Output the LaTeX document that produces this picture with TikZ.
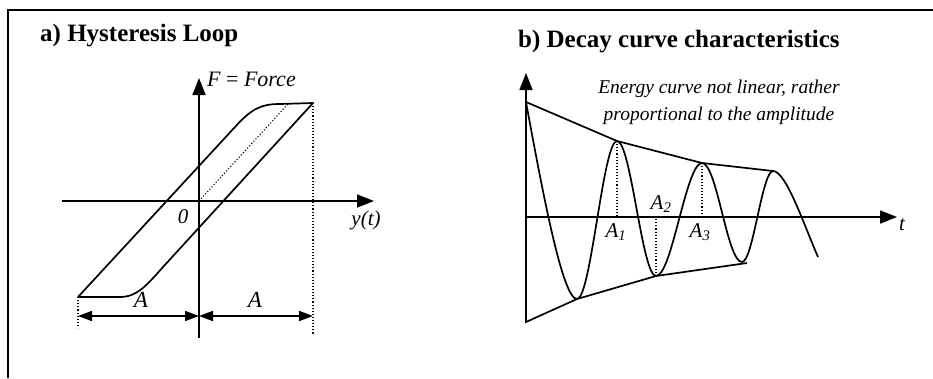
\documentclass[tikz,border=0pt]{standalone}
\usepackage{fontspec}
\setmainfont{Liberation Serif}
\usetikzlibrary{arrows.meta}

\begin{document}
\begin{tikzpicture}[x=1pt,y=-1pt,
    curve/.style={line width=1.7pt, line join=round},
    axis/.style={line width=1.7pt, -{Triangle[length=17pt,width=13pt]}},
    dim/.style={line width=1.7pt, {Triangle[length=14pt,width=10pt]}-{Triangle[length=14pt,width=10pt]}},
    guide/.style={line width=1.1pt, dotted},
    lbl/.style={inner sep=0pt, anchor=base, font=\fontsize{21}{24}\selectfont\itshape},
    title/.style={inner sep=0pt, anchor=base west, font=\fontsize{25}{28}\selectfont\bfseries}]
    \useasboundingbox (0,0) rectangle (933,378);
    \draw[line width=2pt] (8,378) -- (8,10) -- (933,10);

    % a) hysteresis loop
    \pgfmathsetmacro{\ox}{199}
    \pgfmathsetmacro{\oy}{201}
    \pgfmathsetmacro{\xl}{78}
    \pgfmathsetmacro{\xr}{313}
    \coordinate (O) at (\ox,\oy);
    \coordinate (lo) at (\xl,297);
    \coordinate (hi) at (\xr,103);
    \node[title] (titleA) at (40,41) {a) Hysteresis Loop};
    \draw[axis] (62,\oy) -- (374,\oy);
    \draw[axis] (\ox,338) -- (\ox,78);
    \draw[curve] (lo) -- (235,127) .. controls (252,108) and (262,104) .. (280,104)
        -- (hi) -- (163,267) .. controls (147,285) and (137,297) .. (120,297) -- (lo);
    \draw[guide] (O) -- (288,104);
    \draw[guide] (hi) -- (\xr,335);
    \draw[guide] (lo) -- (\xl,328);
    \draw[dim] (\xl,316) -- (\ox,316);
    \draw[dim] (\ox,316) -- (\xr,316);
    \node[lbl, anchor=base west, font=\fontsize{22}{24}\selectfont\itshape] (force) at (207,86) {F {\upshape=} Force};
    \node[lbl] (zero) at (183,223) {0};
    \node[lbl] (yt) at (366,225) {y(t)};
    \node[lbl, font=\fontsize{23}{24}\selectfont\itshape] (ampL) at (141,307) {A};
    \node[lbl, font=\fontsize{23}{24}\selectfont\itshape] (ampR) at (255,307) {A};

    % b) decay curve
    \pgfmathsetmacro{\tx}{526}
    \pgfmathsetmacro{\ty}{217}
    \node[title] (titleB) at (518,47) {b) Decay curve characteristics};
    \draw[axis] (\tx,\ty) -- (897,\ty);
    \draw[axis] (\tx,323) -- (\tx,73);
    \coordinate (S) at (\tx,102);
    \coordinate (m1) at (577,299);
    \coordinate (p1) at (617,141);
    \coordinate (m2) at (656,276);
    \coordinate (p2) at (702,163);
    \coordinate (m3) at (742,262);
    \coordinate (p3) at (773,171);
    \coordinate (E) at (818,257);
    \draw[curve] (S) -- (p1) -- (p2) -- (p3);
    \draw[curve] (\tx,322) -- (m1) -- (m2) -- (747,263);
    \draw[curve] (S) .. controls (544,200) and (563,299) .. (m1)
        .. controls (591,299) and (603,141) .. (p1)
        .. controls (631,141) and (642,276) .. (m2)
        .. controls (672,276) and (686,163) .. (p2)
        .. controls (717,163) and (727,262) .. (m3)
        .. controls (753,262) and (762,171) .. (p3)
        .. controls (786,171) and (804,225) .. (E);
    \foreach \pt in {p1,m2,p2} {
        \draw[guide] (\pt) -- (\pt |- 0,\ty);
    }
    \node[lbl] (a1) at (616,237) {A\textsubscript{1}};
    \node[lbl] (a2) at (661,209) {A\textsubscript{2}};
    \node[lbl] (a3) at (700,237) {A\textsubscript{3}};
    \node[lbl] (tlab) at (902,230) {t};
    \node[lbl, anchor=base, align=center, font=\fontsize{19.5}{26.5}\selectfont\itshape]
        (note) at (719,120) {Energy curve not linear, rather\\proportional to the amplitude};
\end{tikzpicture}
\end{document}
